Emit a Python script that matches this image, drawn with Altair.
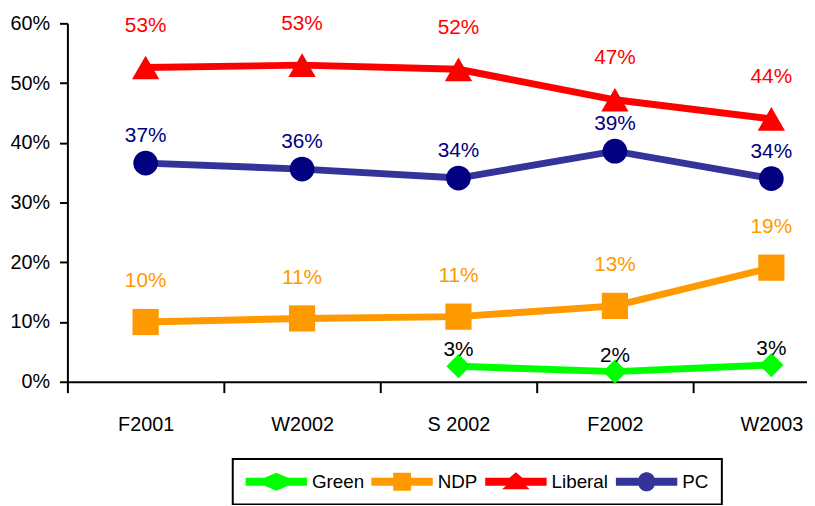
import altair as alt
import pandas as pd

categories = ["F2001", "W2002", "S 2002", "F2002", "W2003"]
parties = ["Green", "NDP", "Liberal", "PC"]

liberal = [52.6, 53.0, 52.3, 47.2, 44.0]
pc = [36.6, 35.6, 34.1, 38.6, 34.0]
ndp = [10.0, 10.6, 10.9, 12.7, 19.1]
green = [None, None, 2.6, 1.7, 2.8]

series = {"Green": green, "NDP": ndp, "Liberal": liberal, "PC": pc}

rows = []
for party, vals in series.items():
    for cat, v in zip(categories, vals):
        if v is not None:
            rows.append({"period": cat, "party": party, "value": v})
df = pd.DataFrame(rows)

FONT = "Liberation Sans Narrow, Liberation Sans, Arial, sans-serif"

style = {
    "Green":   dict(line="#00FF00", marker="#00FF00", label="#000000", shape="diamond", size=600, dy=-16),
    "NDP":     dict(line="#FF9900", marker="#FF9900", label="#FF9900", shape="square", size=700, dy=-41),
    "Liberal": dict(line="#FF0000", marker="#FF0000", label="#FF0000", shape="triangle-up", size=760, dy=-42),
    "PC":      dict(line="#333399", marker="#000080", label="#000080", shape="circle", size=620, dy=-27),
}

x_enc = alt.X(
    "period:N",
    sort=categories,
    scale=alt.Scale(domain=categories, range=[0, 790], paddingInner=0, paddingOuter=0),
    axis=alt.Axis(
        title=None, labelAngle=0, tickBand="extent", tickSize=11, tickWidth=2,
        tickColor="black", domainColor="black", domainWidth=2, labelPadding=22,
        labelFontSize=20, labelColor="black", labelFont=FONT, grid=False,
    ),
)
y_enc = alt.Y(
    "value:Q",
    scale=alt.Scale(domain=[0, 60], nice=False),
    axis=alt.Axis(
        title=None, values=[0, 10, 20, 30, 40, 50, 60], labelExpr="datum.value + '%'",
        tickSize=8, tickWidth=2, tickColor="black", domainColor="black", domainWidth=2,
        labelPadding=10, labelFontSize=20, labelColor="black", labelFont=FONT, grid=False,
    ),
)

base = alt.Chart(df)
layers = []
for p in ["PC", "Liberal", "NDP", "Green"]:
    s = style[p]
    sub = base.transform_filter(alt.datum.party == p)
    layers.append(sub.mark_line(strokeWidth=7, color=s["line"]).encode(x=x_enc, y=y_enc))
for p in ["PC", "Liberal", "NDP", "Green"]:
    s = style[p]
    sub = base.transform_filter(alt.datum.party == p)
    layers.append(
        sub.mark_point(filled=True, shape=s["shape"], size=s["size"], color=s["marker"], opacity=1)
        .encode(x=x_enc, y=y_enc)
    )
for p in ["PC", "Liberal", "NDP", "Green"]:
    s = style[p]
    sub = base.transform_filter(alt.datum.party == p).transform_calculate(
        lbl="format(datum.value, '.0f') + '%'"
    )
    layers.append(
        sub.mark_text(dy=s["dy"], fontSize=21, font=FONT, color=s["label"])
        .encode(x=x_enc, y=y_enc, text="lbl:N")
    )

# legend-only layer: symbols combine a line segment and the marker
legend_paths = [
    "M-1,-0.4H0.9L2.1,-0.9L3.3,-0.4H5.2V0.4H3.3L2.1,0.9L0.9,0.4H-1Z",
    "M-1,-0.4H1.2V-0.9H3V-0.4H5.2V0.4H3V0.9H1.2V0.4H-1Z",
    "M-1,-0.4H1.45L2.1,-0.95L2.75,-0.4H5.2V0.4H3.1L3.5,0.75H0.7L1.1,0.4H-1Z",
    "M-1,-0.4H1.3A0.85,0.85,0,0,1,2.9,-0.4H5.2V0.4H2.9A0.85,0.85,0,0,1,1.3,0.4H-1Z",
]
legend_layer = base.mark_point(filled=True, size=0, opacity=1, fillOpacity=1).encode(
    x=x_enc,
    y=y_enc,
    color=alt.Color(
        "party:N",
        scale=alt.Scale(domain=parties, range=["#00FF00", "#FF9900", "#FF0000", "#333399"]),
        legend=alt.Legend(
            title=None, orient="none", legendX=167, legendY=440, direction="horizontal",
            symbolSize=400, labelOffset=47, columnPadding=7, padding=13,
            strokeColor="black", labelFontSize=19, labelFont=FONT, labelColor="black",
            symbolStrokeWidth=0, symbolOpacity=1, symbolFillColor="black",
        ),
    ),
    shape=alt.Shape("party:N", scale=alt.Scale(domain=parties, range=legend_paths)),
)

chart = alt.layer(legend_layer, *layers).properties(
    width=740,
    height=362,
    autosize=alt.AutoSizeParams(type="none"),
    padding={"left": 60, "top": 13, "right": 7, "bottom": 122},
).configure_view(strokeWidth=0).configure_legend(strokeWidth=2)

chart.save("out.html", embed_options={"renderer": "svg", "actions": False})
